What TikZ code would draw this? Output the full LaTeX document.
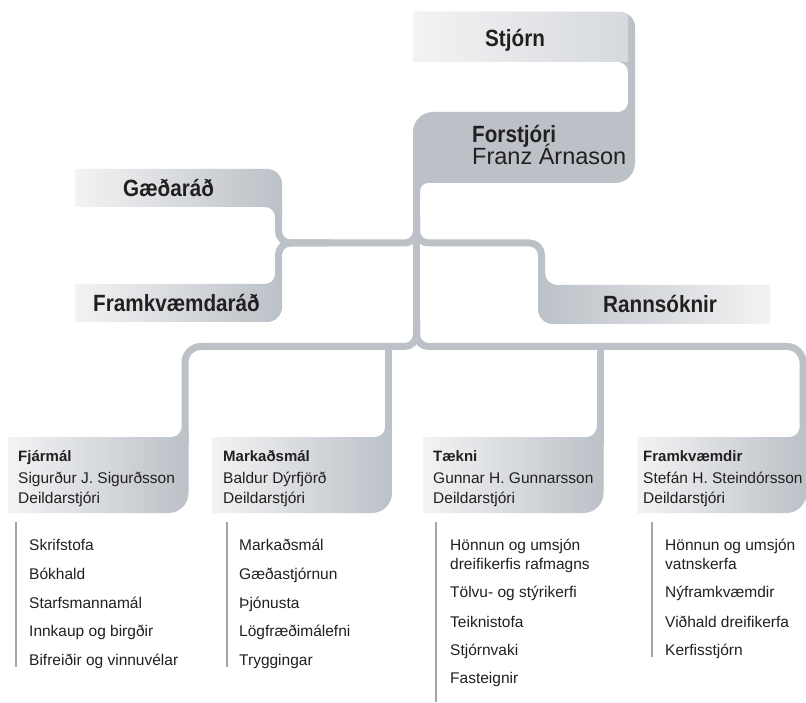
\documentclass[tikz,border=0pt]{standalone}
\usepackage{fontspec}
\setmainfont{Liberation Sans}
\newfontfamily\hfont{Liberation Sans}[FakeStretch=0.88]
\definecolor{cg}{RGB}{187,193,199}
\definecolor{cl}{RGB}{243,243,244}
\definecolor{cm}{RGB}{214,217,221}
\definecolor{txt}{RGB}{35,31,32}
\definecolor{lst}{RGB}{160,166,172}
\begin{document}
\begin{tikzpicture}[x=1pt,y=-1pt,
  conn/.style={draw=cg,line width=7pt,line cap=butt,rounded corners=12pt},
  hd/.style={font=\hfont\bfseries\fontsize{23.5}{26}\selectfont,text=txt,inner sep=0pt,anchor=base west},
  big/.style={font=\fontsize{23.5}{26}\selectfont,text=txt,inner sep=0pt,anchor=base west},
  dh/.style={font=\bfseries\fontsize{15}{18}\selectfont,text=txt,inner sep=0pt,anchor=base west},
  dn/.style={font=\fontsize{15.5}{18}\selectfont,text=txt,inner sep=0pt,anchor=base west},
  lline/.style={draw=lst,line width=1.6pt}]
\useasboundingbox (0,0) rectangle (806,703);
\clip (0,0) rectangle (806,703);

% ---- Stjorn / Forstjori composite ----
\def\topshape{(413,12) [rounded corners=15pt] -- (635,12) [rounded corners=20pt] -- (635,183) [rounded corners=8pt] -- (420,183) [sharp corners] -- (420,200) -- (413,200) [rounded corners=20pt] -- (413,112) [rounded corners=10pt] -- (628,112) -- (628,62) [sharp corners] -- (413,62) -- cycle}
\fill[cg] \topshape;
\begin{scope}
  \clip \topshape;
  \shade[left color=cl,right color=cm] (413,12) rectangle (628,62);
\end{scope}

% ---- connectors ----
\draw[conn] (416.5,190) -- (416.5,330);
\draw[conn] (278.5,205) -- (278.5,243) -- (416.5,243) -- (416.5,215);
\draw[conn] (278.5,280) -- (278.5,243) -- (330,243);
\draw[conn] (416.5,215) -- (416.5,243) -- (541.5,243) -- (541.5,290);
\draw[conn] (416.5,320) -- (416.5,346.5) [rounded corners=16pt] -- (185,346.5) -- (185,445);
\draw[conn] (416.5,320) -- (416.5,346.5) [rounded corners=16pt] -- (803,346.5) -- (803,445);
\draw[conn] (388.5,346.5) -- (388.5,445);
\draw[conn] (600,346.5) -- (600,445);

% ---- side boxes ----
\shade[left color=cl,right color=cg] (75,169) [rounded corners=15pt] -- (282,169) [sharp corners] -- (282,215) -- (275,215) [rounded corners=10pt] -- (275,207) [sharp corners] -- (75,207) -- cycle;
\shade[left color=cl,right color=cg] (75,284) [rounded corners=10pt] -- (275,284) [sharp corners] -- (275,276) -- (282,276) [rounded corners=15pt] -- (282,322) [sharp corners] -- (75,322) -- cycle;
\shade[left color=cg,right color=cl] (538,276) -- (545,276) [rounded corners=12pt] -- (545,285) [sharp corners] -- (770,285) -- (770,324) [rounded corners=15pt] -- (538,324) [sharp corners] -- cycle;

% ---- department boxes ----
\foreach \xl/\xc in {8/185,212/388.5,423/600,637/803}{
  \shade[left color=cl,right color=cg] (\xl,437) [rounded corners=10pt] -- ({\xc-3.5},437) [sharp corners] -- ({\xc-3.5},430) -- ({\xc+3.5},430) [rounded corners=20pt] -- ({\xc+3.5},513) [sharp corners] -- (\xl,513) -- cycle;
}

% ---- texts ----
\node[hd] (stjorn) at (485,47) {Stjórn};
\node[hd] (forstj) at (472,143) {Forstjóri};
\node[big] (franz) at (472,165) {Franz Árnason};
\node[hd] (gaeda) at (123,197) {Gæðaráð};
\node[hd] (framkr) at (93,312) {Framkvæmdaráð};
\node[hd] (rann) at (603,313) {Rannsóknir};

\node[dh] (fjh) at (18,461) {Fjármál};
\node[dn] (fjn) at (18,483) {Sigurður J. Sigurðsson};
\node[dn] (fjd) at (18,503) {Deildarstjóri};
\node[dh] (mkh) at (223,461) {Markaðsmál};
\node[dn] (mkn) at (223,483) {Baldur Dýrfjörð};
\node[dn] (mkd) at (223,503) {Deildarstjóri};
\node[dh] (tkh) at (433,461) {Tækni};
\node[dn] (tkn) at (433,483) {Gunnar H. Gunnarsson};
\node[dn] (tkd) at (433,503) {Deildarstjóri};
\node[dh] (frh) at (643,461) {Framkvæmdir};
\node[dn] (frn) at (643,483) {Stefán H. Steindórsson};
\node[dn] (frd) at (643,503) {Deildarstjóri};

% ---- lists ----
\draw[lline] (16,522) -- (16,667);
\draw[lline] (227,522) -- (227,667);
\draw[lline] (436,522) -- (436,702);
\draw[lline] (652,522) -- (652,657);

\node[dn] (a1) at (29,550) {Skrifstofa};
\node[dn] (a2) at (29,579) {Bókhald};
\node[dn] (a3) at (29,608) {Starfsmannamál};
\node[dn] (a4) at (29,636) {Innkaup og birgðir};
\node[dn] (a5) at (29,665) {Bifreiðir og vinnuvélar};

\node[dn] (b1) at (239,550) {Markaðsmál};
\node[dn] (b2) at (239,579) {Gæðastjórnun};
\node[dn] (b3) at (239,608) {Þjónusta};
\node[dn] (b4) at (239,636) {Lögfræðimálefni};
\node[dn] (b5) at (239,665) {Tryggingar};

\node[dn] (c1) at (450,550) {Hönnun og umsjón};
\node[dn] (c1b) at (450,569) {dreifikerfis rafmagns};
\node[dn] (c2) at (450,597) {Tölvu- og stýrikerfi};
\node[dn] (c3) at (450,627) {Teiknistofa};
\node[dn] (c4) at (450,655) {Stjórnvaki};
\node[dn] (c5) at (450,683) {Fasteignir};

\node[dn] (d1) at (665,550) {Hönnun og umsjón};
\node[dn] (d1b) at (665,569) {vatnskerfa};
\node[dn] (d2) at (665,597) {Nýframkvæmdir};
\node[dn] (d3) at (665,627) {Viðhald dreifikerfa};
\node[dn] (d4) at (665,655) {Kerfisstjórn};
\end{tikzpicture}
\end{document}
